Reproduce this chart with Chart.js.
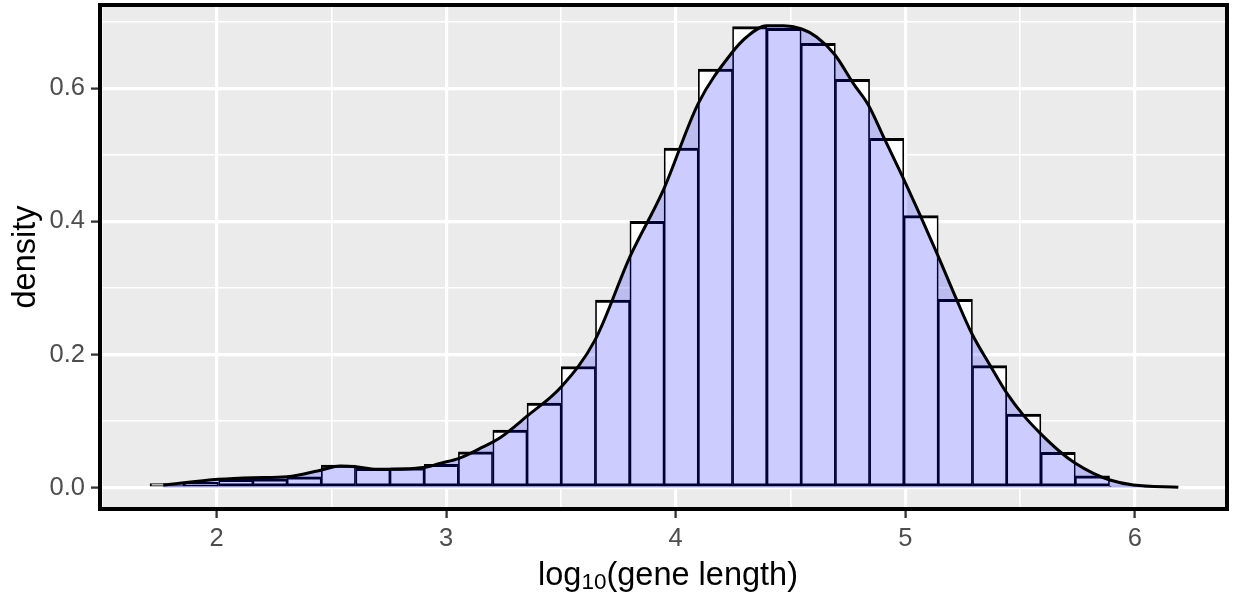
<!DOCTYPE html>
<html>
<head>
<meta charset="utf-8">
<script src="https://cdn.jsdelivr.net/npm/chart.js@4.4.1/dist/chart.umd.min.js"></script>
<style>
  html, body { margin: 0; padding: 0; background: #fff; }
  #wrap { width: 1233px; height: 593px; position: relative; }
</style>
</head>
<body>
<div id="wrap"><canvas id="geneChart"></canvas></div>
<script>
// histogram: bin centres (log10 gene length) and density of each bin
const binMids = [1.785, 1.934, 2.084, 2.233, 2.382, 2.531, 2.681, 2.830, 2.979, 3.128,
                 3.278, 3.427, 3.576, 3.725, 3.875, 4.024, 4.173, 4.322, 4.472, 4.621,
                 4.770, 4.919, 5.069, 5.218, 5.367, 5.516, 5.666, 5.815, 5.964, 6.113];
const binDensity = [0.006, 0.008, 0.0126, 0.0135, 0.0165, 0.034, 0.029, 0.030, 0.035, 0.054,
                    0.0867, 0.127, 0.182, 0.282, 0.400, 0.510, 0.629, 0.6925, 0.690, 0.6676,
                    0.6135, 0.525, 0.4086, 0.283, 0.1833, 0.1107, 0.0531, 0.018, 0.002, 0.0008];

// kernel density curve
const curveX = [1.768, 2.008, 2.160, 2.308, 2.458, 2.538, 2.608, 2.698, 2.759, 2.908,
                2.973, 3.056, 3.148, 3.235, 3.351, 3.503, 3.649, 3.801, 3.946, 4.098,
                4.244, 4.309, 4.396, 4.469, 4.549, 4.614, 4.694, 4.774, 4.839, 4.912,
                4.991, 5.064, 5.144, 5.224, 5.289, 5.369, 5.442, 5.514, 5.587, 5.674,
                5.739, 5.819, 5.891, 5.993, 6.189];
const curveY = [0.004, 0.0126, 0.015, 0.0165, 0.0266, 0.0326, 0.0315, 0.0276, 0.0276, 0.0306,
                0.0366, 0.044, 0.059, 0.075, 0.107, 0.152, 0.222, 0.347, 0.447, 0.577,
                0.653, 0.677, 0.694, 0.694, 0.689, 0.677, 0.650, 0.607, 0.575, 0.522,
                0.465, 0.410, 0.347, 0.282, 0.232, 0.184, 0.142, 0.109, 0.082, 0.054,
                0.037, 0.0216, 0.0116, 0.004, 0.0006];

// axis ticks (major get labels, minor only get a thin grid line)
const xMajor = [2, 3, 4, 5, 6];
const xMinor = [1.5, 2.5, 3.5, 4.5, 5.5];
const yMajor = [0, 0.2, 0.4, 0.6];
const yMinor = [0.1, 0.3, 0.5, 0.7];

const FONT = "'Liberation Sans', Arial, Helvetica, sans-serif";
const inList = (list, v) => list.some(t => Math.abs(t - v) < 1e-9);
const isMajor = (list, c) => !!(c && c.tick) && inList(list, c.tick.value);

// grey panel, black frame and the two axis titles
const panelPlugin = {
    id: 'panel',
    beforeDraw(chart) {
        const { ctx, chartArea: a } = chart;
        ctx.save();
        ctx.fillStyle = '#EBEBEB';
        ctx.fillRect(a.left, a.top, a.right - a.left, a.bottom - a.top);
        ctx.restore();
    },
    afterDraw(chart) {
        const { ctx, chartArea: a } = chart;
        ctx.save();
        ctx.strokeStyle = '#000';
        ctx.lineWidth = 4;
        ctx.strokeRect(a.left, a.top, a.right - a.left, a.bottom - a.top);

        ctx.fillStyle = '#000';
        ctx.textBaseline = 'alphabetic';
        const big = '32.5px ' + FONT;
        const small = '22.5px ' + FONT;
        ctx.font = big;
        const w1 = ctx.measureText('log').width;
        const w3 = ctx.measureText('(gene length)').width;
        ctx.font = small;
        const w2 = ctx.measureText('10').width;
        let x = 668 - (w1 + w2 + w3) / 2;
        const base = 585;
        ctx.font = big;
        ctx.fillText('log', x, base);
        x += w1;
        ctx.font = small;
        ctx.fillText('10', x, base + 4);
        x += w2;
        ctx.font = big;
        ctx.fillText('(gene length)', x, base);

        ctx.translate(35, (a.top + a.bottom) / 2);
        ctx.rotate(-Math.PI / 2);
        ctx.textAlign = 'center';
        ctx.fillText('density', 0, 0);
        ctx.restore();
    }
};

const ctx = document.getElementById('geneChart').getContext('2d');
const geneChart = new Chart(ctx, {
    type: 'bar',
    data: {
        datasets: [{
            type: 'line',
            label: 'density',
            data: curveX.map((x, i) => ({ x: x, y: curveY[i] })),
            borderColor: '#000',
            borderWidth: 3,
            backgroundColor: 'rgba(0, 0, 255, 0.2)',
            fill: 'origin',
            pointRadius: 0,
            cubicInterpolationMode: 'monotone',
            order: 1
        }, {
            type: 'bar',
            label: 'histogram',
            data: binMids.map((x, i) => ({ x: x, y: binDensity[i] })),
            backgroundColor: '#fff',
            borderColor: '#000',
            borderWidth: { top: 3, bottom: 3, left: 1.7, right: 1.7 },
            borderSkipped: false,
            barPercentage: 1,
            categoryPercentage: 1,
            order: 2
        }]
    },
    options: {
        responsive: true,
        maintainAspectRatio: false,
        animation: false,
        devicePixelRatio: 1,
        layout: { padding: { top: 5, right: 6, left: 0, bottom: 0 } },
        plugins: {
            legend: { display: false },
            tooltip: { enabled: false }
        },
        scales: {
            x: {
                type: 'linear',
                offset: false,
                min: 1.4926,
                max: 6.4011,
                afterBuildTicks: s => {
                    s.ticks = xMinor.concat(xMajor).sort((a, b) => a - b).map(v => ({ value: v }));
                },
                afterFit: s => {
                    s.height = 84;
                    s.paddingLeft = 0;
                    s.paddingRight = 0;
                },
                border: { display: false },
                grid: {
                    offset: false,
                    color: '#fff',
                    lineWidth: c => isMajor(xMajor, c) ? 3.2 : 1.6,
                    tickColor: c => isMajor(xMajor, c) ? '#333333' : 'rgba(0,0,0,0)',
                    tickLength: 9,
                    tickWidth: 2.3
                },
                ticks: {
                    autoSkip: false,
                    maxRotation: 0,
                    padding: 6,
                    color: '#4D4D4D',
                    font: { family: FONT, size: 25.5 },
                    callback: v => inList(xMajor, v) ? String(v) : ''
                }
            },
            y: {
                min: -0.032,
                max: 0.7251,
                afterBuildTicks: s => {
                    s.ticks = yMinor.concat(yMajor).sort((a, b) => a - b).map(v => ({ value: v }));
                },
                afterFit: s => {
                    s.width = 100;
                    s.paddingTop = 0;
                    s.paddingBottom = 0;
                },
                border: { display: false },
                grid: {
                    color: '#fff',
                    lineWidth: c => isMajor(yMajor, c) ? 3.2 : 1.6,
                    tickColor: c => isMajor(yMajor, c) ? '#333333' : 'rgba(0,0,0,0)',
                    tickLength: 9,
                    tickWidth: 2.3
                },
                ticks: {
                    autoSkip: false,
                    padding: 6,
                    color: '#4D4D4D',
                    font: { family: FONT, size: 25.5 },
                    callback: v => inList(yMajor, v) ? v.toFixed(1) : ''
                }
            }
        }
    },
    plugins: [panelPlugin]
});
</script>
</body>
</html>
